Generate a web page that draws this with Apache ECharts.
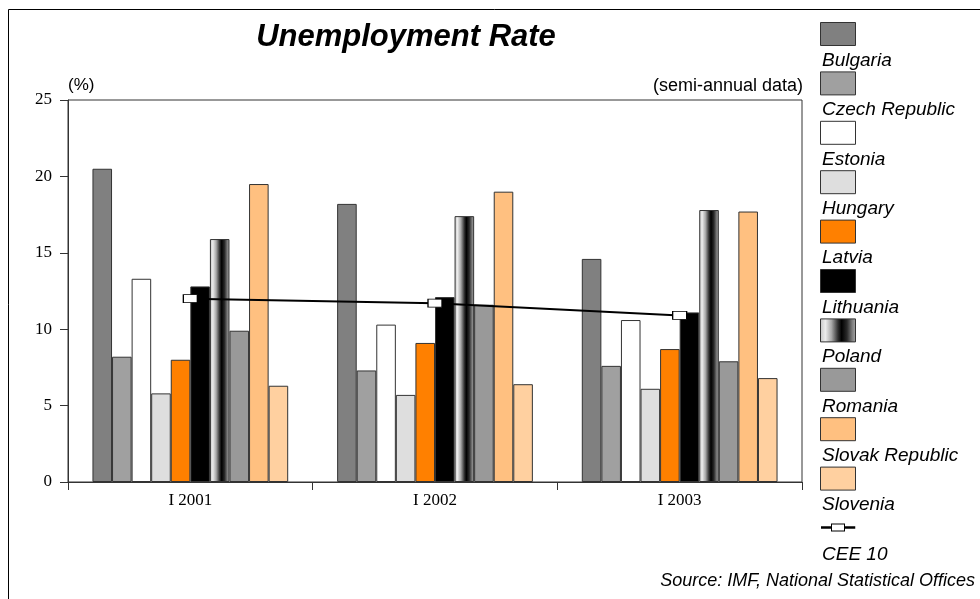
<!DOCTYPE html>
<html>
<head>
<meta charset="utf-8">
<script src="https://cdn.jsdelivr.net/npm/echarts@6/dist/echarts.min.js"></script>
<style>
html,body{margin:0;padding:0;background:#fff;}
#chart{width:980px;height:599px;}
</style>
</head>
<body>
<div id="chart"></div>
<script>
var categories = ['I 2001', 'I 2002', 'I 2003'];
var yTicks = [0, 5, 10, 15, 20, 25];
var countryNames = ['Bulgaria', 'Czech Republic', 'Estonia', 'Hungary', 'Latvia', 'Lithuania', 'Poland', 'Romania', 'Slovak Republic', 'Slovenia'];
var bulgaria = [20.5, 18.2, 14.6];
var czech = [8.2, 7.3, 7.6];
var estonia = [13.3, 10.3, 10.6];
var hungary = [5.8, 5.7, 6.1];
var latvia = [8.0, 9.1, 8.7];
var lithuania = [12.8, 12.1, 11.1];
var poland = [15.9, 17.4, 17.8];
var romania = [9.9, 11.6, 7.9];
var slovak = [19.5, 19.0, 17.7];
var slovenia = [6.3, 6.4, 6.8];
var cee10Name = 'CEE 10';
var cee10 = [12.0, 11.7, 10.9];

var countryValues = [bulgaria, czech, estonia, hungary, latvia, lithuania, poland, romania, slovak, slovenia];

var polandGradient = new echarts.graphic.LinearGradient(0, 0, 1, 0, [
  {offset: 0, color: '#c4c4c4'},
  {offset: 0.15, color: '#ececec'},
  {offset: 0.32, color: '#a8a8a8'},
  {offset: 0.5, color: '#303030'},
  {offset: 0.6, color: '#000000'},
  {offset: 0.75, color: '#2a2a2a'},
  {offset: 0.9, color: '#808080'},
  {offset: 1, color: '#a8a8a8'}
]);
var barColors = ['#808080', '#a0a0a0', '#ffffff', '#dedede', '#ff8000', '#000000', polandGradient, '#999999', '#ffc080', '#ffd0a0'];

var series = countryNames.map(function (name, i) {
  return {
    name: name,
    type: 'bar',
    data: countryValues[i],
    barGap: '0%',
    barCategoryGap: '20%',
    itemStyle: {color: barColors[i], borderColor: '#333', borderWidth: 1},
    emphasis: {disabled: true}
  };
});
series.push({
  name: cee10Name,
  type: 'line',
  data: cee10,
  z: 5,
  symbol: 'rect',
  symbolSize: [14, 8],
  lineStyle: {color: '#000', width: 2},
  itemStyle: {color: '#fff', borderColor: '#000', borderWidth: 1},
  emphasis: {disabled: true}
});

var lineIconSvg = '<svg xmlns="http://www.w3.org/2000/svg" width="35" height="23" viewBox="0 0 35 23">' +
  '<line x1="0" y1="11.5" x2="35" y2="11.5" stroke="#000" stroke-width="2.5"/>' +
  '<rect x="11" y="8" width="13" height="7" fill="#fff" stroke="#000" stroke-width="1"/></svg>';
var lineIcon = 'image://data:image/svg+xml;charset=utf-8,' + encodeURIComponent(lineIconSvg);

var iconData = countryNames.map(function (n) { return {name: n, icon: 'rect'}; });
iconData.push({name: cee10Name, icon: lineIcon});
var textData = countryNames.concat([cee10Name]);

var chart = echarts.init(document.getElementById('chart'), null, {renderer: 'canvas'});
chart.setOption({
  animation: false,
  backgroundColor: '#fff',
  title: [
    {
      text: 'Unemployment Rate',
      left: 406, top: 22, padding: 0, textAlign: 'center',
      textStyle: {fontFamily: 'Liberation Sans', fontSize: 31, fontWeight: 'bold', fontStyle: 'italic', color: '#000'}
    },
    {
      text: '(semi-annual data)',
      right: 177, top: 77, padding: 0,
      textStyle: {fontFamily: 'Liberation Sans', fontSize: 18, fontWeight: 'normal', color: '#000'}
    },
    {
      text: 'Source: IMF, National Statistical Offices',
      right: 5, top: 572, padding: 0,
      textStyle: {fontFamily: 'Liberation Sans', fontSize: 18, fontWeight: 'normal', fontStyle: 'italic', color: '#000'}
    }
  ],
  legend: [
    {
      orient: 'vertical', left: 820, top: 22, padding: 0,
      itemWidth: 35, itemHeight: 23, itemGap: 25.4,
      data: iconData,
      formatter: function () { return ''; },
      textStyle: {fontSize: 8},
      itemStyle: {borderColor: '#333', borderWidth: 1}
    },
    {
      orient: 'vertical', left: 817, top: 49, padding: 0,
      itemWidth: 0, itemHeight: 23, itemGap: 26.4,
      icon: 'none',
      data: textData,
      textStyle: {fontFamily: 'Liberation Sans', fontSize: 19, fontStyle: 'italic', color: '#000', lineHeight: 23}
    }
  ],
  grid: {
    left: 68, right: 178, top: 100, bottom: 117,
    show: true, borderColor: '#333', borderWidth: 1, containLabel: false
  },
  xAxis: {
    type: 'category',
    data: categories,
    axisLine: {lineStyle: {color: '#333', width: 1}},
    axisTick: {show: true, length: 8, lineStyle: {color: '#333'}},
    axisLabel: {fontFamily: 'Liberation Serif', fontSize: 17, color: '#000', margin: 10},
    splitLine: {show: false}
  },
  yAxis: {
    type: 'value',
    min: yTicks[0], max: yTicks[yTicks.length - 1], interval: 5,
    name: '(%)',
    nameLocation: 'end',
    nameGap: 6,
    nameTextStyle: {fontFamily: 'Liberation Sans', fontSize: 17, color: '#000', align: 'left', verticalAlign: 'bottom'},
    axisLine: {show: true, lineStyle: {color: '#333', width: 1}},
    axisTick: {show: true, length: 8, lineStyle: {color: '#333'}},
    axisLabel: {fontFamily: 'Liberation Serif', fontSize: 17, color: '#000', margin: 16},
    splitLine: {show: false}
  },
  graphic: [
    {
      type: 'rect', silent: true, z: -10,
      shape: {x: 8.5, y: 9.5, width: 2000, height: 2000},
      style: {fill: 'none', stroke: '#000', lineWidth: 1}
    }
  ],
  series: series
});
</script>
</body>
</html>
